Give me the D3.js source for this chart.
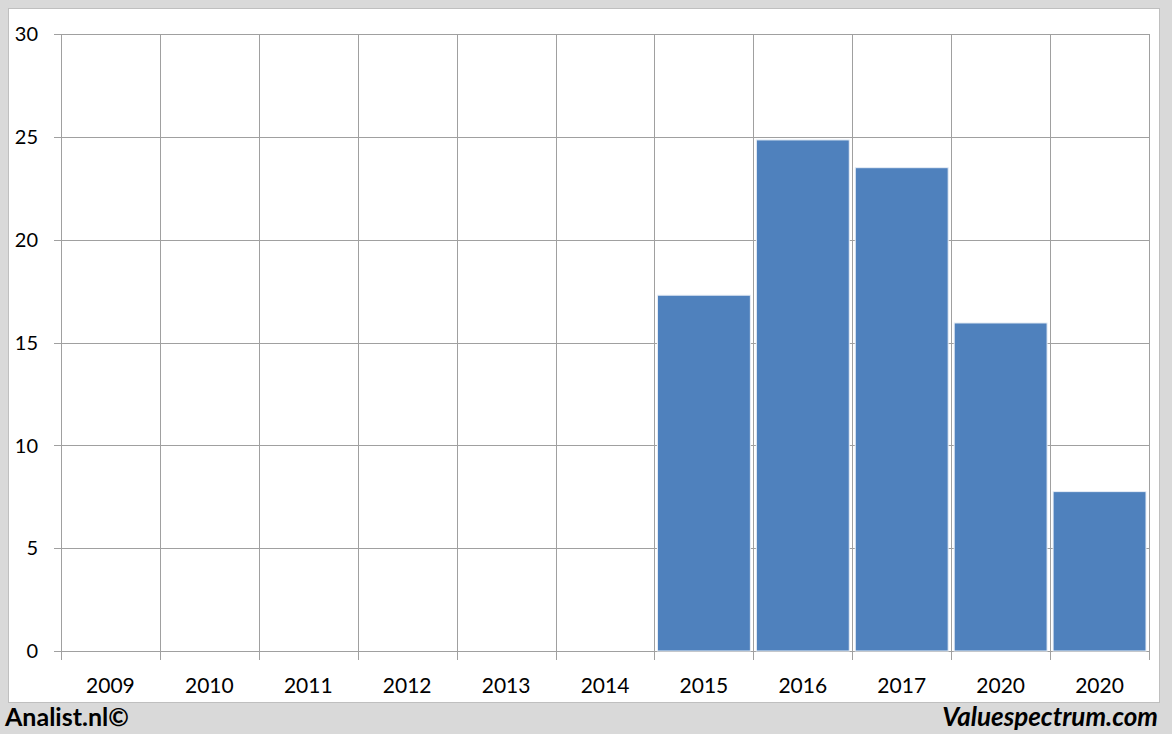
<!DOCTYPE html>
<html><head><meta charset="utf-8">
<script src="https://cdn.jsdelivr.net/npm/d3@7"></script>
<style>html,body{margin:0;padding:0;background:#d9d9d9;}svg{display:block;}</style>
</head><body>
<svg id="c" width="1172" height="734"></svg>
<script>
const categories = ["2009","2010","2011","2012","2013","2014","2015","2016","2017","2020","2020"];
const values = [null,null,null,null,null,null,17.3,24.85,23.5,15.95,7.75];
const yTicks = [0,5,10,15,20,25,30];

const svg = d3.select("#c");
const W = 1172, H = 734;
svg.append("rect").attr("x",0).attr("y",0).attr("width",W).attr("height",H).attr("fill","#d9d9d9");
svg.append("rect").attr("x",8.5).attr("y",8.5).attr("width",1151).attr("height",694)
  .attr("fill","#ffffff").attr("stroke","#bfbfbf").attr("stroke-width",1);

const L = 61, R = 1149, T = 34, B = 651;
const idx = categories.map((d,i)=>i);
const xb = d3.scaleBand().domain(idx).range([L,R]);
const y = d3.scaleLinear().domain([0,30]).range([B,T]);

const font = "Lato, 'Open Sans', sans-serif";
// horizontal grid
svg.append("g").selectAll("line").data(yTicks).join("line")
  .attr("x1",L-7).attr("x2",R).attr("y1",d=>Math.round(y(d))+0.5).attr("y2",d=>Math.round(y(d))+0.5)
  .attr("stroke","#a0a0a0").attr("stroke-width",1);
// vertical grid
const vx = idx.map(i=>xb(i)).concat([R]);
svg.append("g").selectAll("line").data(vx).join("line")
  .attr("x1",d=>Math.round(d)+0.5).attr("x2",d=>Math.round(d)+0.5).attr("y1",T).attr("y2",B+9)
  .attr("stroke","#a0a0a0").attr("stroke-width",1);

// bars
svg.append("g").selectAll("rect").data(values.map((v,i)=>({v,i})).filter(d=>d.v!=null)).join("rect")
  .attr("x",d=>xb(d.i)+3).attr("width",xb.bandwidth()-6)
  .attr("y",d=>y(d.v)).attr("height",d=>B-y(d.v))
  .attr("fill","#4f81bd").attr("stroke","#e8eef6").attr("stroke-width",1);

// y labels
svg.append("g").selectAll("text").data(yTicks).join("text")
  .attr("x",38).attr("y",d=>y(d)).attr("dy","0.36em").attr("text-anchor","end")
  .attr("font-family",font).attr("font-size",20).attr("fill","#000").text(d=>d);
// x labels
svg.append("g").selectAll("text").data(idx).join("text")
  .attr("x",i=>xb(i)+xb.bandwidth()/2).attr("y",685).attr("dy","0.36em").attr("text-anchor","middle")
  .attr("font-family",font).attr("font-size",21).attr("fill","#000").text(i=>categories[i]);

svg.append("text").attr("x",5).attr("y",726).attr("font-family",font).attr("font-weight","bold")
  .attr("font-size",25).attr("fill","#000").text("Analist.nl©");
svg.append("text").attr("x",1158).attr("y",726).attr("text-anchor","end").attr("font-family",font)
  .attr("font-weight","bold").attr("font-style","italic").attr("font-size",26).attr("fill","#000").text("Valuespectrum.com");
</script>
</body></html>
